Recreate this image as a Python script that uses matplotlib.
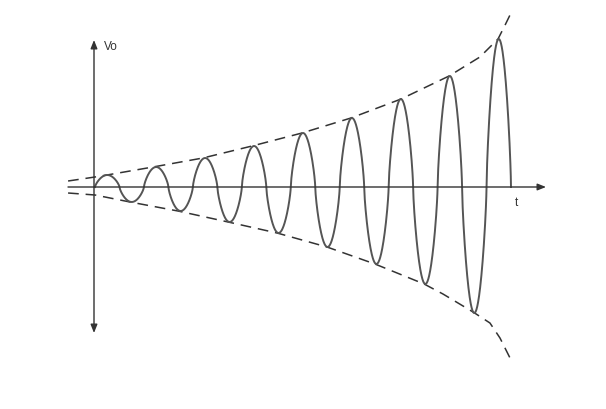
import numpy as np
import matplotlib
matplotlib.use("Agg")
import matplotlib.pyplot as plt

# Peak amplitude of each half-cycle (17 half-cycles)
half_cycle_peaks = [12, 15, 20, 24, 29, 35, 41, 46, 54, 60, 69, 77, 88, 97, 111, 126, 148]

# Envelope (dashed) points: time (half-cycle units) and amplitude
upper_env_t = [-1.10, 0.0, 0.49, 2.37, 4.41, 6.42, 8.46, 10.46, 12.51, 14.47, 15.73, 16.47, 16.76, 16.96]
upper_env_v = [6, 10, 12, 20, 29, 41, 54, 69, 88, 111, 130, 148, 162, 172]
lower_env_t = [-1.10, 0.0, 1.43, 3.39, 5.44, 7.44, 9.48, 11.44, 13.45, 14.22, 15.45, 16.14, 16.55, 16.96]
lower_env_v = [6, 8, 15, 24, 35, 46, 60, 77, 97, 107, 125, 136, 151, 171]

xlabel = "t"
ylabel = "Vo"

PX = 24.47  # pixels per half-cycle
fig = plt.figure(figsize=(6.06, 4.09), dpi=100)
ax = fig.add_axes([0, 0, 1, 1])
ax.set_xlim(-95 / PX, (606 - 95) / PX)
ax.set_ylim(-(409 - 187), 187)
ax.axis("off")

# wave: each half-cycle is a rounded lobe
ts, vs = [], []
for k, a in enumerate(half_cycle_peaks):
    t = np.linspace(k, k + 1, 120)
    s = 1 if k % 2 == 0 else -1
    ts.append(t)
    vs.append(s * a * np.abs(np.sin(np.pi * (t - k))) ** 0.72)
ax.plot(np.concatenate(ts), np.concatenate(vs), color="#555555", lw=1.4, zorder=3)

# envelopes
ax.plot(upper_env_t, upper_env_v, color="#333333", lw=1.1, dashes=(7, 4.5))
ax.plot(lower_env_t, [-v for v in lower_env_v], color="#333333", lw=1.1, dashes=(7, 4.5))

# axes arrows
arrow = dict(arrowstyle="-|>,head_length=0.5,head_width=0.2", color="#333333", lw=1.0,
             shrinkA=0, shrinkB=0)
ax.annotate("", xy=(451 / PX, 0), xytext=(-27 / PX, 0), arrowprops=arrow)
ax.annotate("", xy=(-1 / PX, 147), xytext=(-1 / PX, 0), arrowprops=arrow)
ax.annotate("", xy=(-1 / PX, -146), xytext=(-1 / PX, 0), arrowprops=arrow)

ax.text(9 / PX, 140, ylabel, fontsize=8.5, family="Liberation Sans", color="#333333",
        ha="left", va="center")
ax.text(421 / PX, -16, xlabel, fontsize=8.5, family="Liberation Sans", color="#333333",
        ha="center", va="center")

fig.savefig("out.png", dpi=100, facecolor="white")
